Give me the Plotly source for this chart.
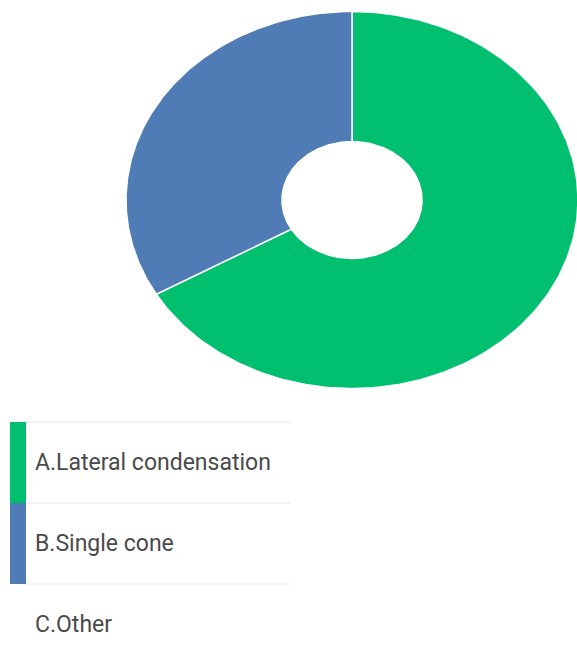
import numpy as np
import plotly.graph_objects as go

# Response counts per filling technique
categories = ["A.Lateral condensation", "B.Single cone", "C.Other"]
counts = [2, 1, 0]
colors = ["#00BF6F", "#507CB6", "#FFFFFF"]

W, H = 577, 658
cx, cy = 352, 200          # donut centre
rx, ry = 226, 188.5        # outer radii
hole = 0.31                # inner radius fraction

fig = go.Figure()

total = sum(counts)
start = 0.0
for name, val, col in zip(categories, counts, colors):
    if val <= 0:
        continue
    span = 360.0 * val / total
    t = np.radians(np.linspace(start, start + span, 240))
    xo = cx + rx * np.sin(t)
    yo = cy - ry * np.cos(t)
    xi = cx + rx * hole * np.sin(t[::-1])
    yi = cy - ry * hole * np.cos(t[::-1])
    xs = np.concatenate([xo, xi, xo[:1]])
    ys = np.concatenate([yo, yi, yo[:1]])
    fig.add_trace(go.Scatter(
        x=xs, y=ys, mode="lines", fill="toself", fillcolor=col,
        line=dict(color="white", width=1.5), name=name,
        hoverinfo="name", showlegend=False,
    ))
    start += span

# Legend rows: coloured bar, label, divider lines
row_top, row_h = 422, 81
for i, (name, col) in enumerate(zip(categories, colors)):
    y0 = row_top + i * row_h
    if counts[i] > 0:
        fig.add_shape(type="rect", x0=10, x1=26, y0=y0, y1=y0 + row_h,
                      xref="x", yref="y", fillcolor=col, line_width=0, layer="above")
    if i < len(categories) - 1:
        fig.add_shape(type="line", x0=26, x1=290, y0=y0, y1=y0,
                      xref="x", yref="y", line=dict(color="#E6E6E6", width=1.2))
    fig.add_annotation(x=33, y=y0 + row_h / 2, text=name, xref="x", yref="y",
                       showarrow=False, xanchor="left", yanchor="middle",
                       font=dict(family="Roboto", size=23, color="#4A4A4A"))
fig.add_shape(type="line", x0=26, x1=290, y0=row_top + 2 * row_h, y1=row_top + 2 * row_h,
              xref="x", yref="y", line=dict(color="#E6E6E6", width=1.2))

fig.update_xaxes(range=[0, W], visible=False, fixedrange=True)
fig.update_yaxes(range=[H, 0], visible=False, fixedrange=True)
fig.update_layout(
    width=W, height=H, margin=dict(l=0, r=0, t=0, b=0),
    paper_bgcolor="white", plot_bgcolor="white", showlegend=False,
)

fig.write_html("out.html")
